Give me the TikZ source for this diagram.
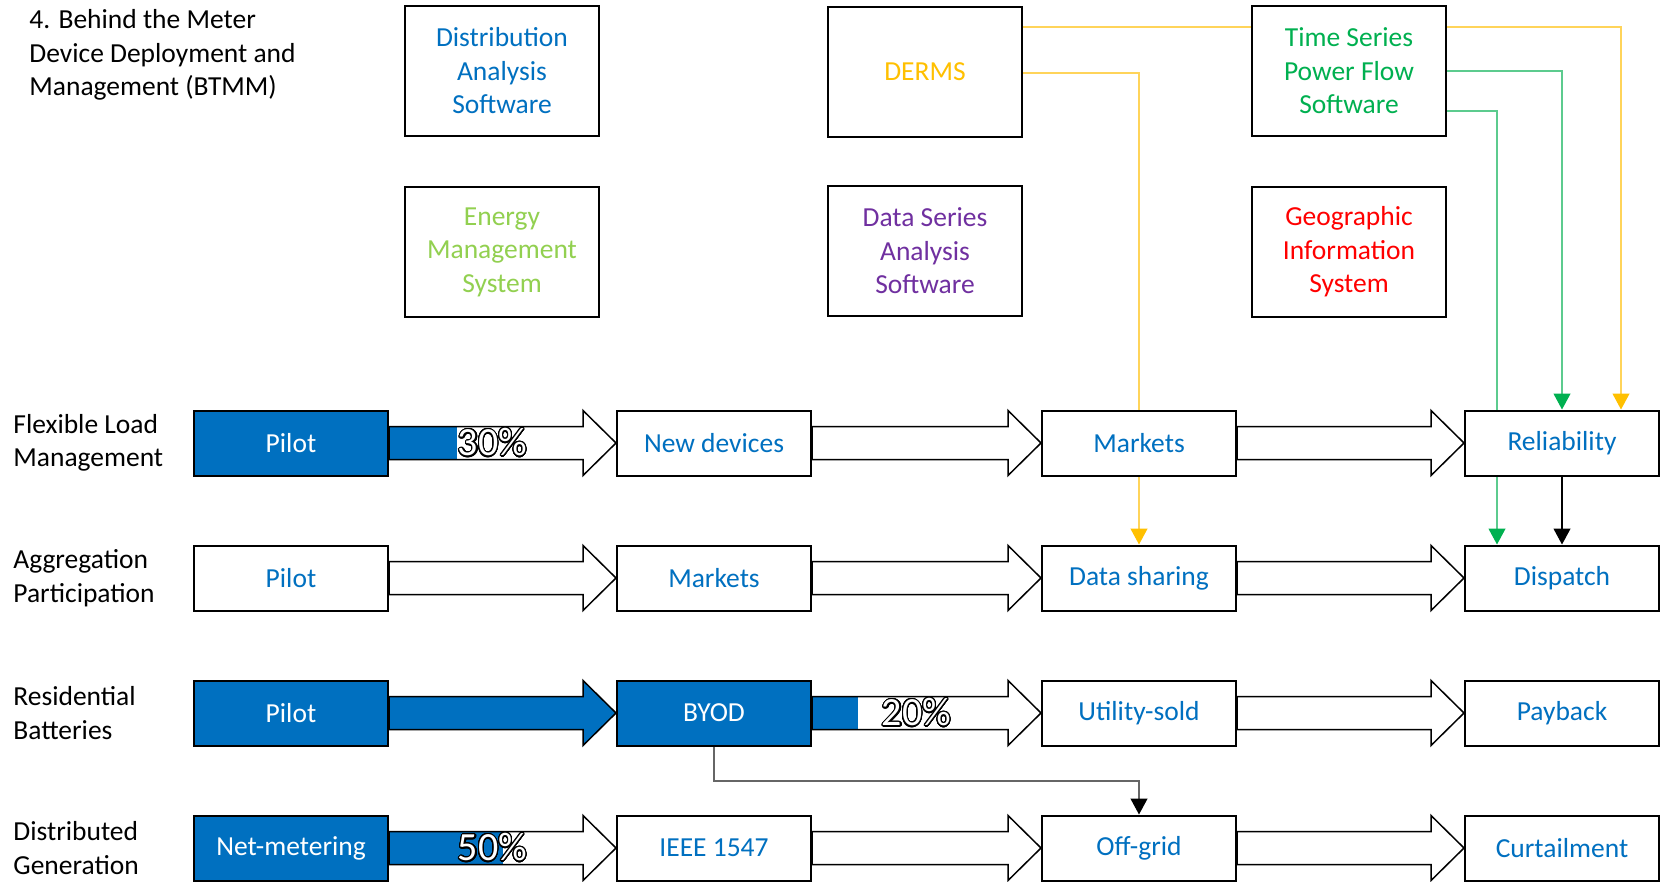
\documentclass[tikz,border=0pt]{standalone}
\usepackage{fontspec}
\setmainfont{Carlito}
\usepackage{contour}
\contourlength{0.6pt}
\contournumber{32}
\usetikzlibrary{arrows.meta,calc}
\pgfdeclarelayer{background}
\pgfsetlayers{background,main}

\definecolor{msblue}{HTML}{0070C0}
\definecolor{msgold}{HTML}{FFC000}
\definecolor{msgoldline}{HTML}{FFD45A}
\definecolor{msgreen}{HTML}{00B050}
\definecolor{msgreenline}{HTML}{5CCB8E}
\definecolor{mslime}{HTML}{92D050}
\definecolor{mspurple}{HTML}{7030A0}
\definecolor{msred}{HTML}{FF0000}

% block arrow outline between two stage boxes
\newcommand\arrowpoly[3]{%
  \path[#3] let \p1=(#1.east), \p2=(#2.west) in
    (\x1,\y1+8.25pt) -- (\x2-16.5pt,\y1+8.25pt) -- (\x2-16.5pt,\y1+16.25pt)
    -- (\x2,\y1) -- (\x2-16.5pt,\y1-16.25pt) -- (\x2-16.5pt,\y1-8.25pt)
    -- (\x1,\y1-8.25pt) -- cycle;}
% arrow with the shaft filled up to a fraction of its length
\newcommand\progressarrow[3]{%
  \arrowpoly{#1}{#2}{fill=white}
  \path[fill=msblue] let \p1=(#1.east), \p2=(#2.west) in
    (\x1,\y1-8.25pt) rectangle ({\x1+#3*(\x2-\x1)},\y1+8.25pt);
  \arrowpoly{#1}{#2}{draw=black,line width=0.75pt}}
\newcommand\plainarrow[2]{\arrowpoly{#1}{#2}{fill=white,draw=black,line width=0.75pt}}
\newcommand\fullarrow[2]{\arrowpoly{#1}{#2}{fill=msblue,draw=black,line width=0.75pt}}

\begin{document}
\begin{tikzpicture}[x=0.5pt,y=-0.5pt,
  every node/.style={font=\fontsize{13.75pt}{16.75pt}\selectfont},
  topbox/.style={draw=black,line width=1pt,fill=white,minimum width=97pt,
    minimum height=65pt,inner sep=0pt,align=center},
  stagebox/.style={draw=black,line width=1pt,fill=white,minimum width=97pt,
    minimum height=32.5pt,inner sep=0pt,text=msblue},
  donebox/.style={stagebox,fill=msblue,text=white},
  lbl/.style={anchor=west,align=left,inner sep=0pt,text=black},
  pct/.style={inner sep=0pt,text=white,font=\fontsize{20pt}{24pt}\selectfont},
  yline/.style={draw=msgoldline,line width=0.6pt,
    -{Triangle[length=8pt,width=8.5pt,color=msgold,fill=msgold]}},
  yplain/.style={draw=msgoldline,line width=0.6pt},
  gline/.style={draw=msgreenline,line width=0.6pt,
    -{Triangle[length=8pt,width=8.5pt,color=msgreen,fill=msgreen]}},
  kline/.style={draw=black,line width=0.6pt,
    -{Triangle[length=8pt,width=8.5pt,color=black,fill=black]}},
  grline/.style={draw=black!60,line width=0.6pt,
    -{Triangle[length=8pt,width=8.5pt,color=black,fill=black]}},
]
\useasboundingbox (0,0) rectangle (1660,882);

% title and row labels
\node[lbl] (title) at (29,55) {4. Behind the Meter\\Device Deployment and\\Management (BTMM)};
\node[lbl] (l1) at (13,443) {Flexible Load\\Management};
\node[lbl] (l2) at (13,578) {Aggregation\\Participation};
\node[lbl] (l3) at (13,713) {Residential\\Batteries};
\node[lbl] (l4) at (13,848) {Distributed\\Generation};

% software boxes
\node[topbox,text=msblue]   (A) at (502,71)  {Distribution\\Analysis\\Software};
\node[topbox,text=msgold]   (B) at (925,72)  {DERMS};
\node[topbox,text=msgreen]  (C) at (1349,71) {Time Series\\Power Flow\\Software};
\node[topbox,text=mslime]   (D) at (502,252) {Energy\\Management\\System};
\node[topbox,text=mspurple] (E) at (925,251) {Data Series\\Analysis\\Software};
\node[topbox,text=msred]    (F) at (1349,252) {Geographic\\Information\\System};

% stage boxes
\node[donebox]  (r11) at (291,443)  {Pilot};
\node[stagebox] (r12) at (714,443)  {New devices};
\node[stagebox] (r13) at (1139,443) {Markets};
\node[stagebox] (r14) at (1562,443) {Reliability};

\node[stagebox] (r21) at (291,578)  {Pilot};
\node[stagebox] (r22) at (714,578)  {Markets};
\node[stagebox] (r23) at (1139,578) {Data sharing};
\node[stagebox] (r24) at (1562,578) {Dispatch};

\node[donebox]  (r31) at (291,713)  {Pilot};
\node[donebox]  (r32) at (714,713)  {BYOD};
\node[stagebox] (r33) at (1139,713) {Utility-sold};
\node[stagebox] (r34) at (1562,713) {Payback};

\node[donebox]  (r41) at (291,848)  {Net-metering};
\node[stagebox] (r42) at (714,848)  {IEEE 1547};
\node[stagebox] (r43) at (1139,848) {Off-grid};
\node[stagebox] (r44) at (1562,848) {Curtailment};

% bend points of the connectors
\coordinate (ytop) at (1621,27);
\coordinate (ymid) at (0,73);
\coordinate (gtop) at (0,71);
\coordinate (glow) at (1497,111);
\coordinate (bjog) at (0,781);

\begin{pgfonlayer}{background}
  % progress arrows
  \progressarrow{r11}{r12}{0.3}
  \plainarrow{r12}{r13}
  \plainarrow{r13}{r14}
  \plainarrow{r21}{r22}
  \plainarrow{r22}{r23}
  \plainarrow{r23}{r24}
  \fullarrow{r31}{r32}
  \progressarrow{r32}{r33}{0.2}
  \plainarrow{r33}{r34}
  \progressarrow{r41}{r42}{0.5}
  \plainarrow{r42}{r43}
  \plainarrow{r43}{r44}

  % connectors
  \draw[yline] (B.east |- ytop) -| (ytop |- r14.north);
  \draw[yline] (B.east |- ymid) -| (r23.north);
  \draw[gline] (C.east |- gtop) -| (r14.north);
  \draw[gline] (C.east |- glow) -| (glow |- r24.north);
  \draw[kline] (r14.south) -- (r24.north);
  \draw[grline] (r32.south) |- (r43.north |- bjog) -- (r43.north);
\end{pgfonlayer}

% percentages
\node[pct] (p1) at ($(r11.east)!0.5!(r12.west)+(-10,0)$) {\contour{black}{30\%}};
\node[pct] (p3) at ($(r32.east)!0.5!(r33.west)+(-10,0)$) {\contour{black}{20\%}};
\node[pct] (p4) at ($(r41.east)!0.5!(r42.west)+(-10,0)$) {\contour{black}{50\%}};
\end{tikzpicture}
\end{document}
